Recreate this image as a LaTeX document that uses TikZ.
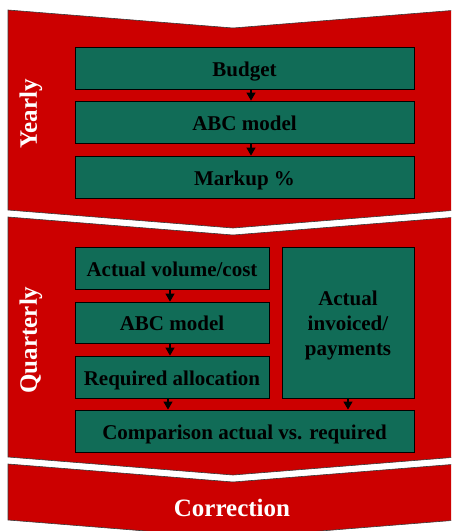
\documentclass[tikz,border=0pt]{standalone}
\usepackage{fontspec}
\setmainfont{Liberation Serif}
\usetikzlibrary{arrows.meta}
\definecolor{ABCRed}{HTML}{CC0000}
\definecolor{ABCGreen}{HTML}{116C57}
\definecolor{ABCEdge}{HTML}{3A3A3A}

\begin{document}
\begin{tikzpicture}[x=1pt,y=-1pt,line join=miter,
  band/.style={fill=ABCRed,draw=ABCEdge,line width=0.6pt},
  stage/.style={fill=ABCGreen,draw=black,line width=0.8pt,inner sep=0pt,align=center,
    text height=18pt,text depth=2pt,font=\fontsize{21}{25}\selectfont\bfseries,text=black},
  period/.style={font=\fontsize{25}{30}\selectfont\bfseries,text=white},
  flow/.style={-{Triangle[length=8pt,width=9pt]},black,line width=1.1pt}]
  \useasboundingbox (0,0) rectangle (451,531);
  \clip (0,0) rectangle (451,531);
  \fill[white] (0,0) rectangle (451,531);
  % the three periods as chevrons
  \draw[band] (8,10) -- (233,28) -- (458,10) -- (458,210) -- (233,228) -- (8,210) -- cycle;
  \draw[band] (8,217) -- (233,235) -- (458,217) -- (458,457) -- (233,475) -- (8,457) -- cycle;
  \draw[band] (8,464) -- (233,482) -- (458,464) -- (458,520) -- (233,538) -- (8,520) -- cycle;
  \node[period,rotate=90] (yearly) at (31,114) {Yearly};
  \node[period,rotate=90] (quarterly) at (31,340) {Quarterly};
  \node[period] (correction) at (232,508) {Correction};
  % yearly steps
  \node[stage,minimum width=339pt,minimum height=42pt] (budget) at (244.5,68) {Budget};
  \node[stage,minimum width=339pt,minimum height=42pt] (abcyear) at (244.5,122) {ABC model};
  \node[stage,minimum width=339pt,minimum height=42pt] (markup) at (244.5,177) {Markup \%};
  \draw[flow] ([xshift=6.5pt]budget.south) -- ([xshift=6.5pt]abcyear.north);
  \draw[flow] ([xshift=6.5pt]abcyear.south) -- ([xshift=6.5pt]markup.north);
  % quarterly steps
  \node[stage,minimum width=194pt,minimum height=42pt] (actvol) at (172,268) {Actual volume/cost};
  \node[stage,minimum width=194pt,minimum height=41pt] (abcquart) at (172,322.5) {ABC model};
  \node[stage,minimum width=194pt,minimum height=42pt] (reqalloc) at (172,377) {Required allocation};
  \node[stage,text height=68pt,minimum width=132pt,minimum height=151pt] (invoiced) at (348,322.5) {Actual\\invoiced/\\payments};
  \node[stage,minimum width=339pt,minimum height=42pt] (compare) at (244.5,431) {Comparison actual vs. required};
  \draw[flow] ([xshift=-2pt]actvol.south) -- ([xshift=-2pt]abcquart.north);
  \draw[flow] ([xshift=-2pt]abcquart.south) -- ([xshift=-2pt]reqalloc.north);
  \draw[flow] ([xshift=-4pt]reqalloc.south) -- ([xshift=-4pt]reqalloc.south |- compare.north);
  \draw[flow] (invoiced.south) -- (invoiced.south |- compare.north);
\end{tikzpicture}
\end{document}
